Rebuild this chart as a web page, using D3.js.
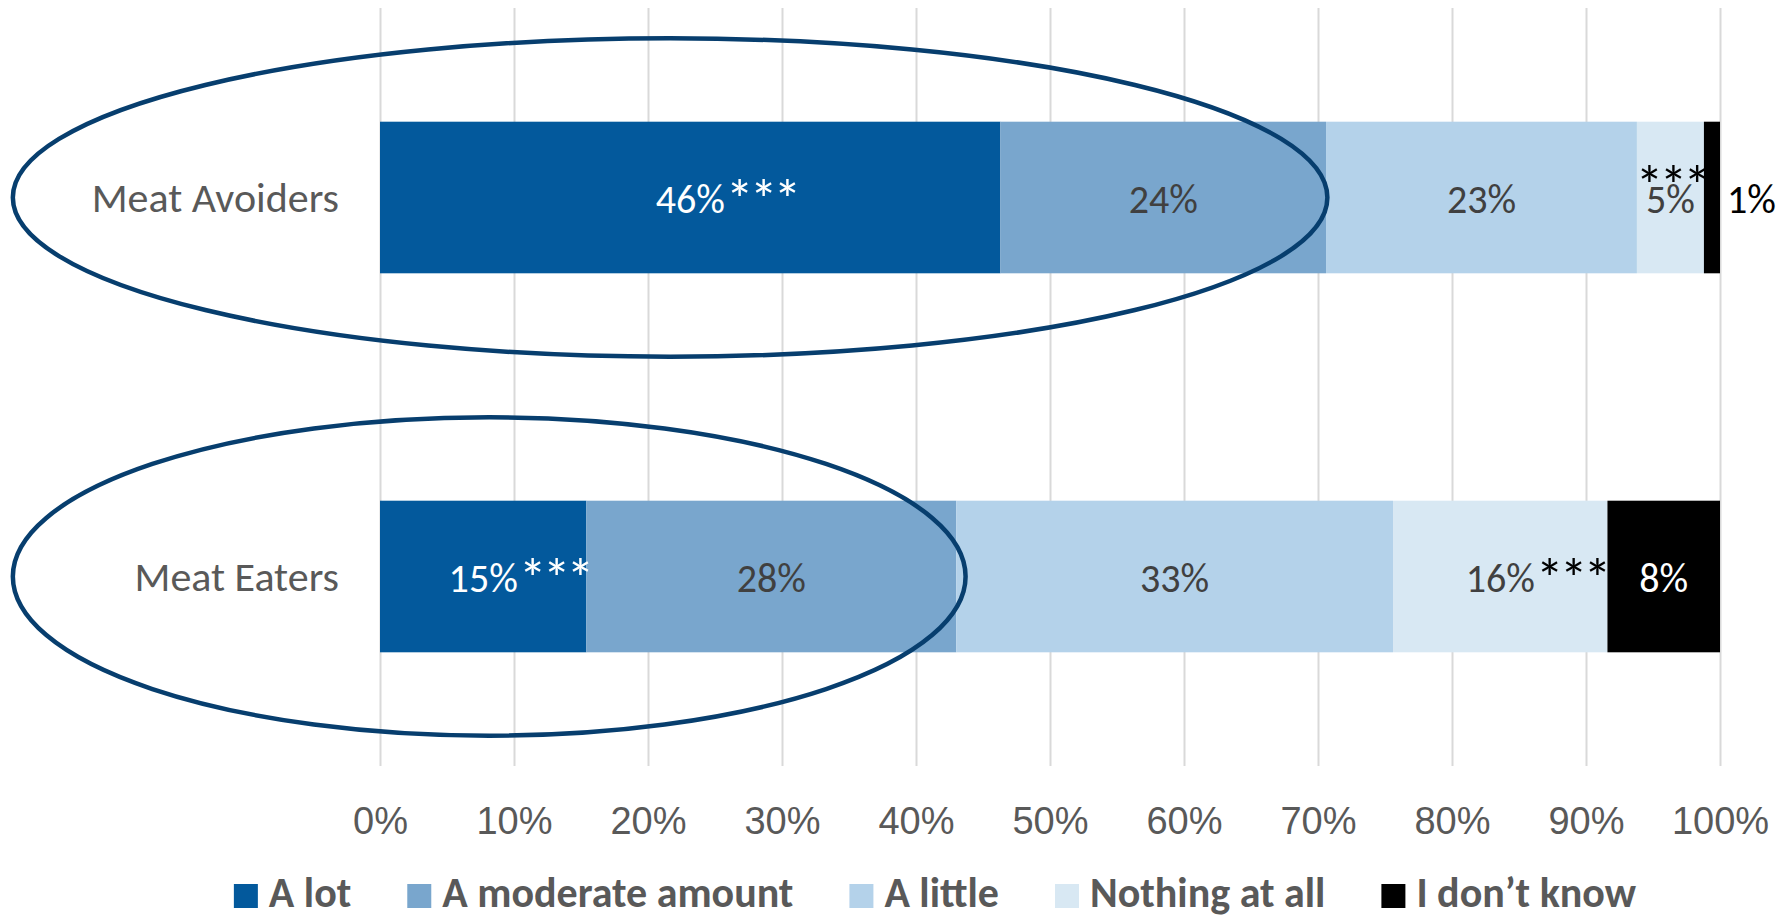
<!DOCTYPE html>
<html>
<head>
<meta charset="utf-8">
<script src="https://cdn.jsdelivr.net/npm/d3@7"></script>
<style>
  body { margin: 0; background: #fff; }
  svg { display: block; font-family: Calibri, Carlito, Lato, sans-serif; }
</style>
</head>
<body>
<svg id="chart" width="1791" height="916"></svg>
<script>
// data
const categories = ["Meat Avoiders", "Meat Eaters"];
const seriesNames = ["A lot", "A moderate amount", "A little", "Nothing at all", "I don’t know"];
const avoiderValues = [46.3, 24.3, 23.2, 5.0, 1.2];
const eaterValues = [15.4, 27.6, 32.6, 16.0, 8.4];
const tickValues = [0, 10, 20, 30, 40, 50, 60, 70, 80, 90, 100];
// significance markers (***) per bar segment
const sigCategories = ["Meat Avoiders", "Meat Avoiders", "Meat Eaters", "Meat Eaters"];
const sigSeries = ["A lot", "Nothing at all", "A lot", "Nothing at all"];
const sigPlace = ["after", "above", "after", "after"];
// hand-drawn ellipses, extents in % units
const ellipseFrom = [-27.4, -27.4];
const ellipseTo = [70.7, 43.7];

const palette = ["#03599c", "#79a6cd", "#b4d2ea", "#d8e8f3", "#000000"];
const labelFill = ["#ffffff", "#404040", "#404040", "#404040", "#ffffff"];

const width = 1791;
const height = 916;
const margin = { top: 8, right: 71, bottom: 150, left: 380 };

const svg = d3.select("#chart");

const rows = categories.map((c, i) => {
  const vals = i === 0 ? avoiderValues : eaterValues;
  const row = { category: c };
  seriesNames.forEach((s, j) => row[s] = vals[j]);
  return row;
});

const stack = d3.stack().keys(seriesNames);
const layers = stack(rows);

const x = d3.scaleLinear()
  .domain([0, 100])
  .range([margin.left, width - margin.right]);

const y = d3.scaleBand()
  .domain(categories)
  .range([margin.top, height - margin.bottom])
  .paddingInner(0.6)
  .paddingOuter(0.3);

const color = d3.scaleOrdinal(seriesNames, palette);
const textColor = d3.scaleOrdinal(seriesNames, labelFill);

// gridlines + tick labels
const xAxis = svg.append("g")
  .attr("transform", `translate(0, ${height - margin.bottom})`)
  .call(d3.axisBottom(x)
    .tickValues(tickValues)
    .tickSize(-(height - margin.bottom - margin.top))
    .tickFormat(d => d + "%"));
xAxis.select(".domain").remove();
xAxis.selectAll(".tick line").attr("stroke", "#d9d9d9").attr("stroke-width", 2);
xAxis.selectAll(".tick text")
  .attr("y", 0)
  .attr("dy", 68)
  .attr("fill", "#595959")
  .style("font-size", "38px");

// category labels
svg.append("g")
  .selectAll("text")
  .data(categories)
  .join("text")
  .attr("x", x(0) - 41)
  .attr("y", d => y(d) + y.bandwidth() / 2 + 14)
  .attr("text-anchor", "end")
  .attr("fill", "#595959")
  .style("font-size", "42px")
  .text(d => d);

// bars
const layerG = svg.append("g")
  .selectAll("g")
  .data(layers)
  .join("g")
  .attr("fill", d => color(d.key));

layerG.selectAll("rect")
  .data(d => d.map(p => ({ key: d.key, cat: p.data.category, x0: p[0], x1: p[1] })))
  .join("rect")
  .attr("x", d => x(d.x0))
  .attr("y", d => y(d.cat))
  .attr("width", d => x(d.x1) - x(d.x0))
  .attr("height", y.bandwidth());

// value labels
const segs = layers.flatMap(l => l.map(p => ({ key: l.key, cat: p.data.category, x0: p[0], x1: p[1] })));
const labels = svg.append("g")
  .selectAll("text")
  .data(segs)
  .join("text")
  .style("font-size", "40px")
  .attr("y", d => y(d.cat) + y.bandwidth() / 2 + 15)
  .each(function(d) {
    const t = d3.select(this);
    const small = (d.x1 - d.x0) < 3;
    if (small) {
      t.attr("x", x(d.x1) + 7).attr("text-anchor", "start").attr("fill", "#000");
    } else {
      t.attr("x", x((d.x0 + d.x1) / 2)).attr("text-anchor", "middle").attr("fill", textColor(d.key));
    }
    t.text(Math.round(d.x1 - d.x0) + "%");
  });

// significance stars
sigCategories.forEach((cat, i) => {
  const seg = segs.find(s => s.cat === cat && s.key === sigSeries[i]);
  const lbl = labels.filter(d => d === seg);
  const cy = y(cat) + y.bandwidth() / 2 + 15;
  const starFill = seg.key === "A lot" ? "#fff" : "#000";
  const star = svg.append("text")
    .attr("fill", starFill)
    .style("font-size", "56px")
    .style("letter-spacing", "-4px")
    .text("***");
  if (sigPlace[i] === "after") {
    const box = lbl.node().getBBox();
    star.attr("x", box.x + box.width + 1).attr("y", cy + 6);
  } else {
    star.attr("x", x((seg.x0 + seg.x1) / 2) + 1)
      .attr("y", cy - 8)
      .attr("text-anchor", "middle");
  }
});

// ellipses drawn over the chart
svg.append("g")
  .selectAll("ellipse")
  .data(categories)
  .join("ellipse")
  .attr("cx", (d, i) => (x(ellipseFrom[i]) + x(ellipseTo[i])) / 2)
  .attr("cy", d => y(d) + y.bandwidth() / 2)
  .attr("rx", (d, i) => (x(ellipseTo[i]) - x(ellipseFrom[i])) / 2)
  .attr("ry", y.step() * 0.42)
  .attr("fill", "none")
  .attr("stroke", "#073e6e")
  .attr("stroke-width", 4.5);

// legend
const legend = svg.append("g").attr("class", "legend");
let lx = 0;
seriesNames.forEach((s, i) => {
  const item = legend.append("g").attr("transform", `translate(${lx}, 0)`);
  item.append("rect")
    .attr("x", 0).attr("y", 884)
    .attr("width", 24).attr("height", 24)
    .attr("fill", color(s));
  const t = item.append("text")
    .attr("x", 35).attr("y", 907)
    .attr("fill", "#595959")
    .style("font-size", "42px")
    .style("font-weight", "bold")
    .text(s);
  lx += 35 + t.node().getComputedTextLength() + 56;
});
const legendW = lx - 56;
legend.attr("transform", `translate(${935 - legendW / 2}, 0)`);
</script>
</body>
</html>
